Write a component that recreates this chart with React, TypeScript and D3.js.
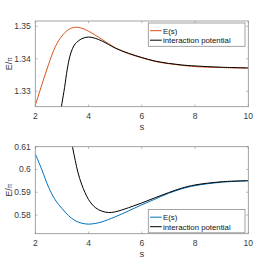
import React from 'react';
import * as d3 from 'd3';

// top panel: E(s) and interaction potential
const sTopE = [2, 2.25, 2.5, 2.75, 3, 3.25, 3.5, 3.75, 4, 4.5, 5, 5.5, 6, 6.5, 7, 7.5, 8, 9, 10];
const topE = [1.3257, 1.3321, 1.3383, 1.3437, 1.347, 1.349, 1.3497, 1.3494, 1.3485, 1.346, 1.3434, 1.3416, 1.3403, 1.3392, 1.3385, 1.338, 1.3376, 1.3373, 1.3371];
const sTopV = [2.95, 3.0, 3.1, 3.2, 3.3, 3.4, 3.5, 3.75, 4, 4.25, 4.5, 4.75, 5, 5.5, 6, 6.5, 7, 7.5, 8, 9, 10];
const topV = [1.3235, 1.3262, 1.3312, 1.3368, 1.3408, 1.3432, 1.3446, 1.3462, 1.3467, 1.3463, 1.3455, 1.3444, 1.3433, 1.3417, 1.3404, 1.3393, 1.3386, 1.3381, 1.3378, 1.3374, 1.3372];

// bottom panel
const sBotE = [2, 2.25, 2.5, 2.75, 3, 3.25, 3.5, 3.75, 4, 4.25, 4.5, 5, 5.5, 6, 6.5, 7, 7.5, 8, 9, 10];
const botE = [0.6068, 0.5998, 0.5922, 0.5866, 0.5829, 0.5797, 0.5775, 0.5764, 0.576, 0.5763, 0.577, 0.5792, 0.5818, 0.5845, 0.587, 0.5895, 0.5915, 0.5929, 0.5944, 0.595];
const sBotV = [3.3, 3.4, 3.5, 3.6, 3.75, 4, 4.25, 4.5, 4.75, 5, 5.5, 6, 6.5, 7, 7.5, 8, 9, 10];
const botV = [0.6175, 0.6098, 0.604, 0.5988, 0.5932, 0.5868, 0.5833, 0.5817, 0.5811, 0.5814, 0.5832, 0.5853, 0.5876, 0.5898, 0.5918, 0.5932, 0.5946, 0.5951];

const xTicks = [2, 4, 6, 8, 10];
const topYTicks = [1.33, 1.34, 1.35];
const botYTicks = [0.58, 0.59, 0.6, 0.61];
const legendLabels = ['E(s)', 'interaction potential'];

const FONT = '"Liberation Sans", Arial, Helvetica, sans-serif';
const AXC = '#8c8c8c';
const TXT = '#3a3a3a';

type PanelProps = {
  id: string;
  top: number;
  bottom: number;
  yDomain: [number, number];
  yTicks: number[];
  series: { s: number[]; v: number[]; color: string }[];
  legendTop: number;
};

function Panel({ id, top, bottom, yDomain, yTicks, series, legendTop }: PanelProps) {
  const left = 35.3, right = 248.3;
  const x = d3.scaleLinear().domain([2, 10]).range([left, right]);
  const y = d3.scaleLinear().domain(yDomain).range([bottom, top]);
  const tl = 2.2;
  const line = (s: number[], v: number[]) =>
    d3.line<number>().x((_, i) => x(s[i])).y((d) => y(d)).curve(d3.curveCatmullRom)(v) || '';
  const lg = { x: 148.3, w: 96.7, h: 23.3 };
  return (
    <g>
      <defs>
        <clipPath id={id}>
          <rect x={left} y={top} width={right - left} height={bottom - top} />
        </clipPath>
      </defs>
      <g clipPath={`url(#${id})`}>
        {series.map((d, i) => (
          <path key={i} d={line(d.s, d.v)} fill="none" stroke={d.color} strokeWidth={1} />
        ))}
      </g>
      <rect x={left} y={top} width={right - left} height={bottom - top} fill="none" stroke={AXC} strokeWidth={0.8} />
      {xTicks.map((t) => (
        <g key={t}>
          <line x1={x(t)} x2={x(t)} y1={bottom} y2={bottom - tl} stroke={AXC} strokeWidth={0.6} />
          <line x1={x(t)} x2={x(t)} y1={top} y2={top + tl} stroke={AXC} strokeWidth={0.6} />
          <text x={x(t)} y={bottom + 11.8} textAnchor="middle" fontSize={8.5} fill={TXT} fontFamily={FONT}>{t}</text>
        </g>
      ))}
      {yTicks.map((t) => (
        <g key={t}>
          <line x1={left} x2={left + tl} y1={y(t)} y2={y(t)} stroke={AXC} strokeWidth={0.6} />
          <line x1={right} x2={right - tl} y1={y(t)} y2={y(t)} stroke={AXC} strokeWidth={0.6} />
          <text x={30.8} y={y(t) + 3} textAnchor="end" fontSize={8.5} fill={TXT} fontFamily={FONT}>{String(t)}</text>
        </g>
      ))}
      <text x={x(6)} y={bottom + 23.5} textAnchor="middle" fontSize={9.5} fill={TXT} fontFamily={FONT}>s</text>
      <text transform={`translate(12,${(top + bottom) / 2}) rotate(-90)`} textAnchor="middle" fontSize={9} fill={TXT} fontFamily={FONT}>
        E/<tspan fontSize={6.5}>π</tspan>
      </text>
      <rect x={lg.x} y={legendTop} width={lg.w} height={lg.h} fill="#fff" stroke={AXC} strokeWidth={0.8} />
      {legendLabels.map((lab, i) => {
        const cy = legendTop + 7.7 + i * 9.5;
        return (
          <g key={lab}>
            <line x1={150} x2={161.7} y1={cy} y2={cy} stroke={series[i].color} strokeWidth={1} />
            <text x={163} y={cy + 2.8} fontSize={7.8} fill="#111" fontFamily={FONT}>{lab}</text>
          </g>
        );
      })}
    </g>
  );
}

export default function App() {
  return (
    <svg width={274} height={267} style={{ position: 'absolute', left: 0, top: 0, background: '#fff' }}>
      <Panel
        id="clipTop"
        top={21}
        bottom={106.7}
        yDomain={[1.32526, 1.35163]}
        yTicks={topYTicks}
        series={[
          { s: sTopE, v: topE, color: '#D95319' },
          { s: sTopV, v: topV, color: '#000000' },
        ]}
        legendTop={23}
      />
      <Panel
        id="clipBot"
        top={146.7}
        bottom={233.7}
        yDomain={[0.5718, 0.61]}
        yTicks={botYTicks}
        series={[
          { s: sBotE, v: botE, color: '#0072BD' },
          { s: sBotV, v: botV, color: '#000000' },
        ]}
        legendTop={209.5}
      />
    </svg>
  );
}
